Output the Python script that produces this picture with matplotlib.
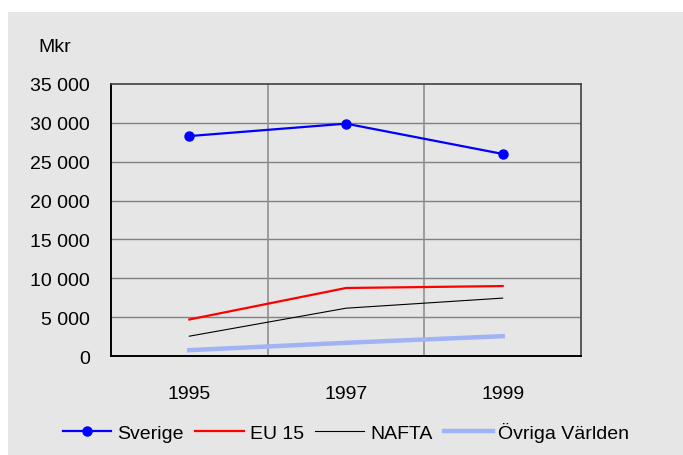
import matplotlib
matplotlib.use("Agg")
import matplotlib.pyplot as plt
from matplotlib.patches import Rectangle

plt.rcParams['font.family'] = ['Liberation Sans', 'DejaVu Sans']

years = ["1995", "1997", "1999"]
sverige = [28300, 29900, 26000]
eu15 = [4700, 8750, 9000]
nafta = [2550, 6150, 7450]
ovriga = [750, 1700, 2550]

yticks = [0, 5000, 10000, 15000, 20000, 25000, 30000, 35000]
ytick_labels = ["0", "5 000", "10 000", "15 000", "20 000", "25 000", "30 000", "35 000"]

bg = "#e6e6e6"

fig = plt.figure(figsize=(6.83, 4.56), dpi=100)
fig.patch.set_facecolor("white")
# gray panel behind everything
fig.patches.append(Rectangle((8 / 683, 0), 1 - 8 / 683, 1 - 13 / 456,
                             transform=fig.transFigure, facecolor=bg,
                             edgecolor="none", zorder=-10))

ax = fig.add_axes([111 / 683, 1 - 357 / 456, 470 / 683, 272 / 456])
ax.set_facecolor(bg)

x = list(range(len(years)))
ax.plot(x, sverige, color="#0000ff", lw=1.6, marker="o", markersize=6.5, label="Sverige", zorder=5)
ax.plot(x, eu15, color="#ff0000", lw=1.6, label="EU 15", zorder=4)
ax.plot(x, nafta, color="black", lw=0.8, label="NAFTA", zorder=4)
ax.plot(x, ovriga, color="#9fb3f5", lw=3.2, label="Övriga Världen", zorder=3)

ax.set_xlim(-0.5, 2.5)
ax.set_ylim(0, 35000)
ax.set_yticks(yticks)
ax.set_yticklabels(ytick_labels)
ax.set_xticks(x)
ax.set_xticklabels(years)
ax.tick_params(axis="both", length=0, labelsize=14)
ax.tick_params(axis="y", pad=15)
ax.tick_params(axis="x", pad=21)

for yv in yticks[1:-1]:
    ax.axhline(yv, color="#808080", lw=1.0, zorder=1)
for xv in [0.5, 1.5]:
    ax.axvline(xv, color="#909090", lw=1.2, zorder=1)

for side in ["left", "bottom"]:
    ax.spines[side].set_color("black")
    ax.spines[side].set_linewidth(1.4)
for side in ["top", "right"]:
    ax.spines[side].set_color("#404040")
    ax.spines[side].set_linewidth(1.2)

fig.text(38 / 683, 1 - 52 / 456, "Mkr", fontsize=14)

leg = ax.legend(loc="upper center", bbox_to_anchor=(0.5, -0.178), ncol=4,
                frameon=False, fontsize=14, handlelength=2.5, handletextpad=0.3,
                columnspacing=0.6)

fig.savefig("out.png", dpi=100, facecolor=fig.get_facecolor())
